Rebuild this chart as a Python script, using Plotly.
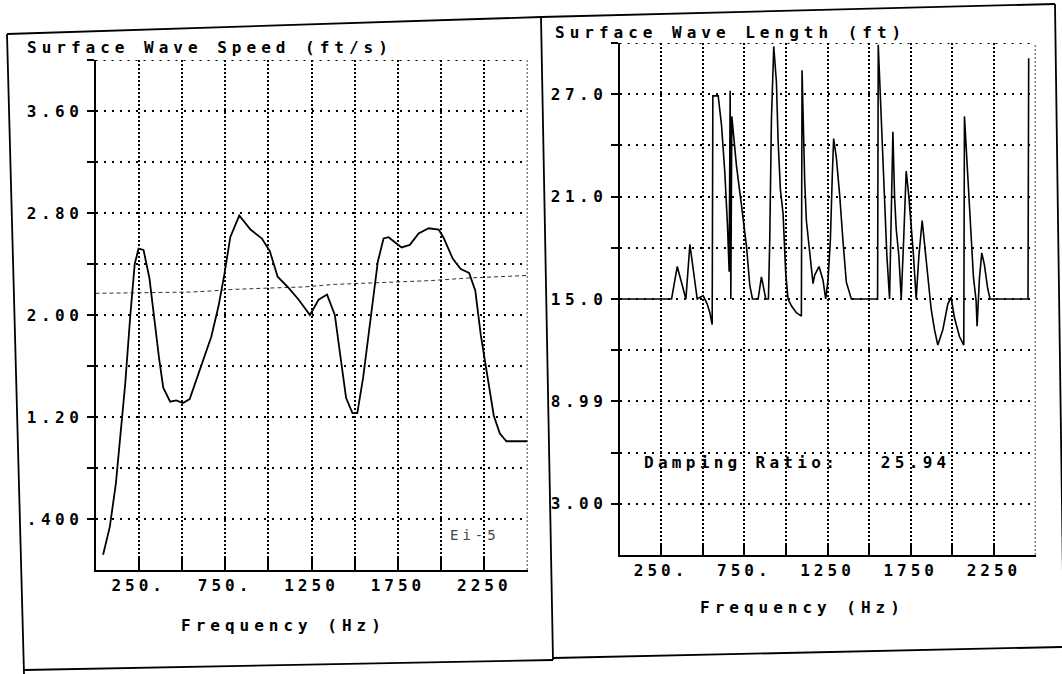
import plotly.graph_objects as go

W, H = 1062, 674

# ---------------- data ----------------
# Left panel: Surface Wave Speed (ft/s) vs Frequency (Hz)
speed_freq = [44, 83, 118, 145, 172, 201, 227, 249, 278, 312,
              344, 368, 392, 432, 467, 506, 545, 586, 628, 670,
              712, 746, 780, 832, 897, 963, 1009, 1054, 1119, 1176,
              1241, 1291, 1340, 1385, 1418, 1450, 1487, 1515, 1549, 1598,
              1634, 1667, 1696, 1771, 1819, 1870, 1928, 1986, 2013, 2068,
              2114, 2162, 2198, 2230, 2271, 2305, 2340, 2378, 2500]
speed_vals = [0.12, 0.34, 0.68, 1.07, 1.46, 1.99, 2.40, 2.52, 2.51, 2.29,
              1.92, 1.66, 1.43, 1.32, 1.33, 1.31, 1.34, 1.50, 1.68, 1.83,
              2.07, 2.32, 2.61, 2.78, 2.67, 2.60, 2.50, 2.30, 2.21, 2.12,
              2.00, 2.12, 2.16, 2.00, 1.67, 1.35, 1.23, 1.23, 1.51, 2.05,
              2.42, 2.60, 2.61, 2.53, 2.55, 2.64, 2.68, 2.67, 2.61, 2.44,
              2.36, 2.33, 2.19, 1.84, 1.48, 1.21, 1.07, 1.01, 1.01]

# faint dotted reference curve in the left panel
trend_freq = [0, 551, 686, 783, 976, 1208, 1382, 1575, 1749, 1942, 2155, 2500]
trend_vals = [2.17, 2.18, 2.19, 2.20, 2.21, 2.22, 2.24, 2.25, 2.26, 2.27, 2.29, 2.31]

# Right panel: Surface Wave Length (ft) vs Frequency (Hz)
length_freq = [0, 313, 347, 373, 399, 423, 443, 467, 503, 527,
               543, 557, 561, 593, 613, 633, 649, 659, 665, 669,
               675, 703, 733, 763, 783, 799, 833, 853, 879, 895,
               903, 913, 927, 943, 953, 967, 983, 999, 1013, 1033,
               1063, 1093, 1097, 1103, 1113, 1123, 1143, 1163, 1173, 1199,
               1223, 1239, 1253, 1267, 1279, 1287, 1303, 1323, 1343, 1363,
               1393, 1551, 1555, 1563, 1579, 1593, 1607, 1623, 1643, 1653,
               1663, 1679, 1693, 1707, 1723, 1739, 1753, 1767, 1783, 1799,
               1819, 1833, 1853, 1873, 1893, 1913, 1943, 1973, 1993, 2013,
               2043, 2069, 2073, 2083, 2099, 2113, 2127, 2143, 2149, 2163,
               2177, 2193, 2213, 2227, 2455, 2459]
length_vals = [15.0, 15.0, 16.9, 15.9, 15.0, 18.2, 16.8, 15.0, 15.2, 14.7,
               14.2, 13.5, 26.9, 26.9, 25.2, 22.4, 19.3, 16.6, 27.2, 15.0,
               25.7, 22.8, 20.5, 18.1, 15.8, 15.0, 15.0, 16.3, 15.0, 15.0,
               18.5, 25.5, 29.8, 27.7, 24.3, 21.4, 20.0, 16.5, 15.0, 14.6,
               14.2, 14.0, 28.4, 25.7, 21.9, 19.6, 17.6, 15.9, 16.4, 16.9,
               16.1, 15.0, 16.1, 18.4, 22.3, 24.4, 23.3, 21.1, 18.4, 16.0,
               15.0, 15.0, 29.9, 28.1, 24.2, 21.2, 17.5, 15.0, 24.8, 21.0,
               19.1, 17.5, 15.0, 18.3, 22.5, 21.0, 19.3, 17.5, 15.0, 17.5,
               19.6, 18.3, 16.3, 14.4, 13.2, 12.3, 13.2, 14.7, 15.1, 13.9,
               12.8, 12.3, 25.7, 24.0, 21.1, 18.6, 16.3, 14.9, 13.4, 16.2,
               17.7, 17.0, 15.6, 15.0, 15.0, 29.1]

# axis ticks
freq_max = 2500
speed_max = 4.0
length_max = 30
freq_ticks = [0, 250, 500, 750, 1000, 1250, 1500, 1750, 2000, 2250, 2500]
freq_labels = ["", "250.", "", "750.", "", "1250", "", "1750", "", "2250", ""]
speed_ticks = [0.4, 0.8, 1.2, 1.6, 2.0, 2.4, 2.8, 3.2, 3.6, 4.0]
speed_labels = [".400", "", "1.20", "", "2.00", "", "2.80", "", "3.60", ""]
length_ticks = [3, 6, 9, 12, 15, 18, 21, 24, 27, 30]
length_labels = ["3.00", "", "8.99", "", "15.0", "", "21.0", "", "27.0", ""]

FONT = "DejaVu Sans Mono"


def sp(text, ls):
    return '<span style="letter-spacing:%gpx">%s</span>' % (ls, text) if text else ""


def px(x):
    return x / W


def py(y):
    return 1 - y / H


fig = go.Figure()

fig.add_trace(go.Scatter(x=trend_freq, y=trend_vals, mode="lines",
                         line=dict(color="#333333", width=1, dash="4px,3px"),
                         xaxis="x", yaxis="y", hoverinfo="skip"))
fig.add_trace(go.Scatter(x=speed_freq, y=speed_vals, mode="lines",
                         line=dict(color="black", width=1.8),
                         xaxis="x", yaxis="y", hoverinfo="skip"))
fig.add_trace(go.Scatter(x=length_freq, y=length_vals, mode="lines",
                         line=dict(color="black", width=1.6),
                         xaxis="x2", yaxis="y2", hoverinfo="skip"))

tickfont = dict(family=FONT, size=16, color="black", weight="bold")

VDASH = "2px,2px"
HDASH = "2px,6px"

common_x = dict(range=[0, freq_max], tickmode="array", tickvals=freq_ticks,
                showgrid=True, gridcolor="black", gridwidth=1.5, griddash=VDASH,
                showline=True, linecolor="black", linewidth=2,
                ticks="inside", ticklen=12, tickwidth=1.5, tickcolor="black",
                zeroline=False, tickfont=tickfont, fixedrange=True)
common_y = dict(tickmode="array",
                showgrid=True, gridcolor="black", gridwidth=1.8, griddash=HDASH,
                showline=True, linecolor="black", linewidth=2,
                ticks="outside", ticklen=7, tickwidth=1.5, tickcolor="black",
                zeroline=False, tickfont=tickfont, fixedrange=True)

fig.update_layout(
    width=W, height=H,
    margin=dict(l=0, r=0, t=0, b=0),
    paper_bgcolor="white", plot_bgcolor="white",
    showlegend=False, hovermode=False,
    xaxis=dict(common_x, domain=[px(95.5), px(527.5)], anchor="y",
               ticktext=[sp(t, 4) for t in freq_labels]),
    yaxis=dict(common_y, domain=[py(570), py(60)], anchor="x", range=[0, speed_max],
               tickvals=speed_ticks, ticktext=[sp(t, 4.5) for t in speed_labels]),
    xaxis2=dict(common_x, domain=[px(619.5), px(1035.5)], anchor="y2",
                ticktext=[sp(t, 4) for t in freq_labels]),
    yaxis2=dict(common_y, domain=[py(555), py(43)], anchor="x2", range=[0, length_max],
                tickvals=length_ticks, ticktext=[sp(t, 4.5) for t in length_labels]),
)

# dotted grid lines along the top and right edges of each plot area
for xa, ya, ymax in (("x", "y", speed_max), ("x2", "y2", length_max)):
    fig.add_shape(type="line", xref=xa, yref=ya, x0=0, x1=freq_max, y0=ymax, y1=ymax,
                  line=dict(color="black", width=1.8, dash=HDASH))
    fig.add_shape(type="line", xref=xa, yref=ya, x0=freq_max, x1=freq_max, y0=0, y1=ymax,
                  line=dict(color="black", width=1.5, dash=VDASH))


def label(text, x, y, size=16, ls=5, color="black", weight="bold"):
    fig.add_annotation(text=sp(text, ls), x=px(x), y=py(y), xref="paper", yref="paper",
                       xanchor="left", yanchor="middle", showarrow=False,
                       font=dict(family=FONT, size=size, color=color, weight=weight))


label("Surface Wave Speed (ft/s)", 25, 47, ls=5)
label("Surface Wave Length (ft)", 553, 33, ls=5)
label("Frequency (Hz)", 179, 625, ls=5)
label("Frequency (Hz)", 698, 607, ls=5)
label("Damping Ratio:\u00a0\u00a0\u00a025.94", 642, 462, ls=4.3)
label("Ei-5", 448, 535, size=14, ls=4, color="#444444", weight="normal")

# page borders of the scanned printout
border = [((7, 34), (541, 17)), ((7, 34), (24, 674)), ((24, 670), (553, 660)),
          ((541, 17), (553, 660)), ((541, 17), (1055, 4)), ((1055, 4), (1064, 650)),
          ((553, 658), (1062, 647))]
for (x0, y0), (x1, y1) in border:
    fig.add_shape(type="line", xref="paper", yref="paper",
                  x0=px(x0), y0=py(y0), x1=px(x1), y1=py(y1),
                  line=dict(color="black", width=1.8))

fig.write_html("out.html")
